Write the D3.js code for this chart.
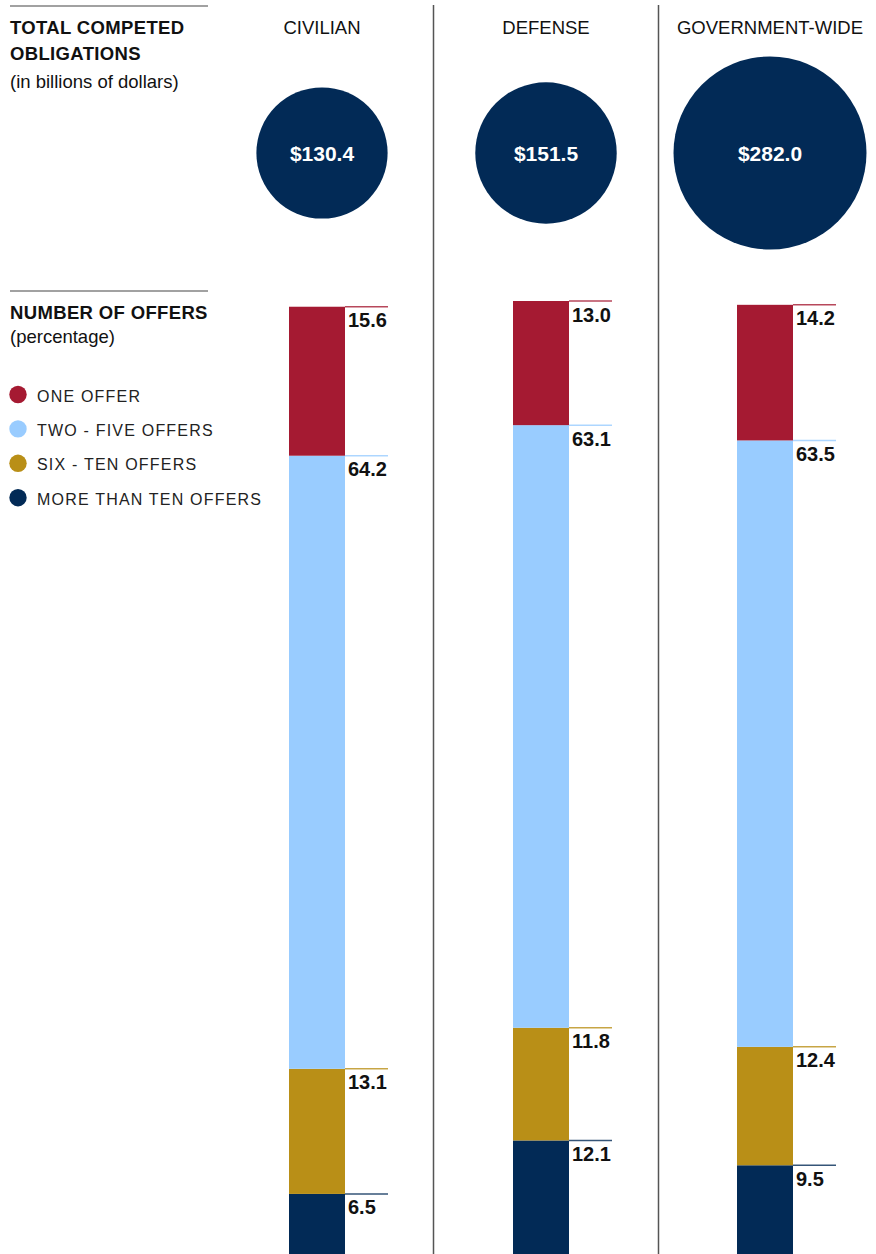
<!DOCTYPE html>
<html>
<head>
<meta charset="utf-8">
<script src="https://cdn.jsdelivr.net/npm/d3@7"></script>
<style>
  html, body { margin: 0; padding: 0; background: #fff; }
  svg { display: block; font-family: Arial, "Liberation Sans", Helvetica, sans-serif; }
</style>
</head>
<body>
<svg id="chart"></svg>
<script>
// Chart data
const sectors = ['CIVILIAN', 'DEFENSE', 'GOVERNMENT-WIDE'];
const obligations = [130.4, 151.5, 282.0];
const offerCategories = ['ONE OFFER', 'TWO - FIVE OFFERS', 'SIX - TEN OFFERS', 'MORE THAN TEN OFFERS'];
const oneOffer = [15.6, 13.0, 14.2];
const twoToFive = [64.2, 63.1, 63.5];
const sixToTen = [13.1, 11.8, 12.4];
const moreThanTen = [6.5, 12.1, 9.5];

const width = 876;
const height = 1254;
const colors = {
  'ONE OFFER': '#a51a32',
  'TWO - FIVE OFFERS': '#99ccff',
  'SIX - TEN OFFERS': '#b98f17',
  'MORE THAN TEN OFFERS': '#022a56'
};

const svg = d3.select('#chart')
  .attr('width', width)
  .attr('height', height);

// rows for stacking, bottom segment first
const rows = sectors.map((s, i) => ({
  sector: s,
  'ONE OFFER': oneOffer[i],
  'TWO - FIVE OFFERS': twoToFive[i],
  'SIX - TEN OFFERS': sixToTen[i],
  'MORE THAN TEN OFFERS': moreThanTen[i]
}));
const stackKeys = offerCategories.slice().reverse();
const series = d3.stack().keys(stackKeys)(rows);

// Scales
const xCol = d3.scalePoint().domain(sectors).range([322, 770]);
const rScale = d3.scaleSqrt().domain([0, d3.max(obligations)]).range([0, 96.5]);
const yScale = d3.scaleLinear().domain([0, 100]).range([1256, 301]);
const barWidth = 56;
const barOffset = -33;
const leaderLen = 43;

// vertical separators
const seps = [433.5, 658.5];
svg.selectAll('.sep')
  .data(seps)
  .enter().append('line')
  .attr('x1', d => d).attr('x2', d => d)
  .attr('y1', 5).attr('y2', height)
  .attr('stroke', '#555')
  .attr('stroke-width', 1.5);

// left side section titles
[6, 291].forEach(y => {
  svg.append('line')
    .attr('x1', 10).attr('x2', 208)
    .attr('y1', y).attr('y2', y)
    .attr('stroke', '#444')
    .attr('stroke-width', 1.2);
});

const titleStyle = (sel, bold) => sel
  .attr('x', 10)
  .attr('font-size', '18.5px')
  .attr('font-weight', bold ? 'bold' : 'normal')
  .attr('letter-spacing', bold ? '0.35px' : '0')
  .attr('fill', '#111');

titleStyle(svg.append('text').attr('y', 34).text('TOTAL COMPETED'), true);
titleStyle(svg.append('text').attr('y', 60).text('OBLIGATIONS'), true);
titleStyle(svg.append('text').attr('y', 88).text('(in billions of dollars)'), false);
titleStyle(svg.append('text').attr('y', 319).text('NUMBER OF OFFERS'), true);
titleStyle(svg.append('text').attr('y', 343).text('(percentage)'), false);

// column headers
svg.selectAll('.header')
  .data(sectors)
  .enter().append('text')
  .attr('x', d => xCol(d))
  .attr('y', 34)
  .attr('text-anchor', 'middle')
  .attr('font-size', '18.5px')
  .attr('fill', '#111')
  .text(d => d);

// obligation circles
const circ = svg.selectAll('.circ')
  .data(sectors.map((s, i) => ({ sector: s, value: obligations[i] })))
  .enter().append('g');

circ.append('circle')
  .attr('cx', d => xCol(d.sector))
  .attr('cy', 153)
  .attr('r', d => rScale(d.value))
  .attr('fill', '#022a56');

circ.append('text')
  .attr('x', d => xCol(d.sector))
  .attr('y', 160.5)
  .attr('text-anchor', 'middle')
  .attr('font-size', '21px')
  .attr('font-weight', 'bold')
  .attr('fill', '#fff')
  .text(d => '$' + d.value.toFixed(1));

// legend
const legend = svg.selectAll('.legend')
  .data(offerCategories)
  .enter().append('g')
  .attr('transform', (d, i) => `translate(0, ${394.5 + i * 34.4})`);

legend.append('circle')
  .attr('cx', 18)
  .attr('cy', 0)
  .attr('r', 8.7)
  .attr('fill', d => colors[d]);

legend.append('text')
  .attr('x', 37)
  .attr('y', 7)
  .attr('font-size', '16px')
  .attr('letter-spacing', '1.2px')
  .attr('fill', '#222')
  .text(d => d);

// stacked bars
const layers = svg.selectAll('.layer')
  .data(series)
  .enter().append('g')
  .attr('fill', d => colors[d.key]);

layers.selectAll('rect')
  .data(d => d)
  .enter().append('rect')
  .attr('x', d => xCol(d.data.sector) + barOffset)
  .attr('y', d => yScale(d[1]))
  .attr('width', barWidth)
  .attr('height', d => yScale(d[0]) - yScale(d[1]));

// leader lines and labels at the top of each segment
layers.each(function (s) {
  const g = d3.select(this);
  g.selectAll('line')
    .data(s)
    .enter().append('line')
    .attr('x1', d => xCol(d.data.sector) + barOffset + barWidth)
    .attr('x2', d => xCol(d.data.sector) + barOffset + barWidth + leaderLen)
    .attr('y1', d => yScale(d[1]))
    .attr('y2', d => yScale(d[1]))
    .attr('stroke', colors[s.key])
    .attr('stroke-opacity', 0.8)
    .attr('stroke-width', 1.5);

  g.selectAll('text')
    .data(s)
    .enter().append('text')
    .attr('x', d => xCol(d.data.sector) + barOffset + barWidth + 3)
    .attr('y', d => yScale(d[1]) + 20.5)
    .attr('font-size', '20px')
    .attr('font-weight', 'bold')
    .attr('fill', '#111')
    .text(d => d.data[s.key].toFixed(1));
});
</script>
</body>
</html>
